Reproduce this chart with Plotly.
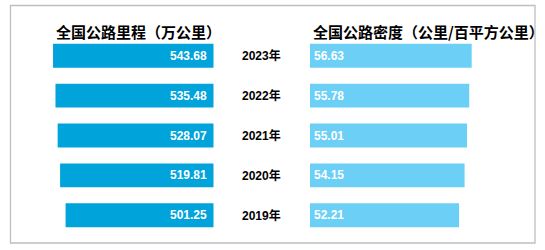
import plotly.graph_objects as go

years = ["2019年", "2020年", "2021年", "2022年", "2023年"]
mileage = [501.25, 519.81, 528.07, 535.48, 543.68]
density = [52.21, 54.15, 55.01, 55.78, 56.63]
title_left = "全国公路里程（万公里）"
title_right = "全国公路密度（公里/百平方公里）"

W, H = 545, 250
dark = "#00A3DA"
light = "#6CCFF6"
pos = list(range(len(years)))

fig = go.Figure()
fig.add_trace(go.Bar(y=pos, x=mileage, orientation="h", marker=dict(color=dark, line=dict(width=0)),
                     width=0.6, xaxis="x", yaxis="y", hoverinfo="skip"))
fig.add_trace(go.Bar(y=pos, x=density, orientation="h", marker=dict(color=light, line=dict(width=0)),
                     width=0.6, xaxis="x2", yaxis="y", hoverinfo="skip"))

left_zero = 213.7
left_scale = 0.2955
right_zero = 310.0
right_scale = 2.855
ppu = 39.9
y0_px = 215.3

ymin = -(H - y0_px) / ppu
ymax = (len(years) - 1) + (y0_px - (len(years) - 1) * ppu) / ppu

num_font = dict(family="Liberation Sans, Arial, sans-serif", size=12, color="white")
year_font = dict(family="Liberation Sans, Arial, Noto Sans CJK SC", size=12, color="black")
annotations = []
for i, (yr, m, d) in enumerate(zip(years, mileage, density)):
    annotations.append(dict(x=0, y=i, xref="x", yref="y", text=f"<b>{m:.2f}</b>", showarrow=False,
                            xanchor="right", xshift=-5, font=num_font))
    annotations.append(dict(x=0, y=i, xref="x2", yref="y", text=f"<b>{d:.2f}</b>", showarrow=False,
                            xanchor="left", xshift=2, font=num_font))
    annotations.append(dict(x=261.7 / W, y=i, xref="paper", yref="y", text=f"<b>{yr}</b>", showarrow=False,
                            xanchor="center", font=year_font))

title_font = dict(family="Noto Sans CJK SC, sans-serif", size=15, color="black")
annotations.append(dict(x=54 / W, y=1 - 31.7 / H, xref="paper", yref="paper", text=f"<b>{title_left}</b>",
                        showarrow=False, xanchor="left", yanchor="middle", font=title_font))
annotations.append(dict(x=311 / W, y=1 - 31.7 / H, xref="paper", yref="paper", text=f"<b>{title_right}</b>",
                        showarrow=False, xanchor="left", yanchor="middle", font=title_font))

fig.update_layout(
    width=W, height=H,
    margin=dict(l=0, r=0, t=0, b=0),
    paper_bgcolor="white", plot_bgcolor="white",
    showlegend=False,
    barmode="overlay",
    xaxis=dict(domain=[0, left_zero / W], range=[left_zero / left_scale, 0], visible=False, fixedrange=True),
    xaxis2=dict(domain=[right_zero / W, 1], range=[0, (W - right_zero) / right_scale], visible=False, fixedrange=True),
    yaxis=dict(range=[ymin, ymax], visible=False, fixedrange=True),
    annotations=annotations,
    shapes=[dict(type="rect", xref="paper", yref="paper", x0=10.5 / W, x1=535 / W, y0=1 - 243 / H, y1=1 - 5.5 / H,
                 line=dict(color="#BFBFBF", width=1.3), fillcolor="rgba(0,0,0,0)", layer="above")],
)

fig.write_html("out.html")
